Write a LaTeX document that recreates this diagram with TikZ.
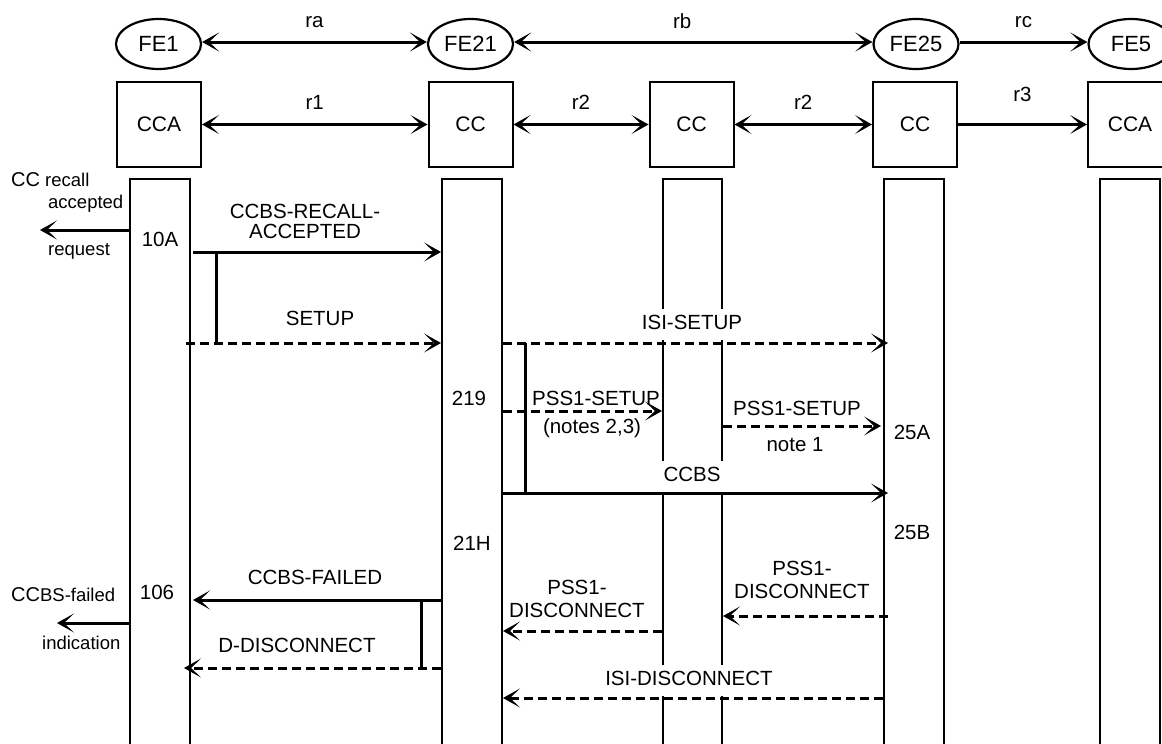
\documentclass[tikz,border=0pt]{standalone}
\usepackage{fontspec}
\setmainfont{Liberation Sans}
\usetikzlibrary{arrows.meta,shapes.geometric}
\begin{document}
\begin{tikzpicture}[x=1pt,y=-1pt,
  >={Stealth[length=17pt,width=19pt,inset=10pt,line width=1.6pt]},
  fe/.style={ellipse,draw,line width=2.2pt,minimum width=85pt,minimum height=50pt,inner sep=0pt,font=\fontsize{22}{24}\selectfont},
  fa/.style={rectangle,draw,line width=2pt,minimum width=84pt,minimum height=85pt,inner sep=0pt,font=\fontsize{21}{24}\selectfont},
  bar/.style={rectangle,draw,line width=2pt,minimum width=60pt,minimum height=620pt,inner sep=0pt,anchor=north},
  conn/.style={line width=3pt},
  msg/.style={line width=3pt,->},
  dmsg/.style={line width=3pt,->,dash pattern=on 9pt off 5pt},
  vl/.style={line width=3pt},
  rl/.style={font=\fontsize{20.5}{22}\selectfont,inner sep=0pt},
  lbl/.style={fill=white,font=\fontsize{20.5}{22}\selectfont,text height=15pt,text depth=4pt,inner xsep=3pt,inner ysep=6pt},
  nlbl/.style={font=\fontsize{20.5}{22}\selectfont,inner sep=1pt},
  mlbl/.style={font=\fontsize{20.5}{23}\selectfont,align=center,inner sep=1pt},
  st/.style={font=\fontsize{20.5}{22}\selectfont,inner sep=0pt},
  side/.style={font=\fontsize{18.5}{20}\selectfont,inner sep=0pt,anchor=west}
]
\useasboundingbox (0,0) rectangle (1162,744);
\clip (0,0) rectangle (1162,744);

% functional entities
\node[fe] (fe1) at (158.5,44) {FE1};
\node[fe] (fe21) at (470.5,44) {FE21};
\node[fe] (fe25) at (916,44) {FE25};
\node[fe] (fe5) at (1131,44) {FE5};

\node[fa] (cca1) at (159,124.5) {CCA};
\node[fa] (cc21) at (470.5,124.5) {CC};
\node[fa] (cc3) at (691.5,124.5) {CC};
\node[fa] (cc25) at (915,124.5) {CC};
\node[fa] (cca5) at (1130,124.5) {CCA};

\coordinate (e1) at (fe1.east |- 0,42);
\coordinate (e21w) at (fe21.west |- 0,42);
\coordinate (e21e) at (fe21.east |- 0,42);
\coordinate (e25w) at (fe25.west |- 0,42);
\coordinate (e25e) at (fe25.east |- 0,42);
\coordinate (e5) at (fe5.west |- 0,42);

\draw[conn,<->] (e1) -- node[rl,yshift=20pt] (ra) {ra} (e21w);
\draw[conn,<->] (e21e) -- node[rl,yshift=21pt,xshift=-11pt] (rb) {rb} (e25w);
\draw[conn,->] (e25e) -- node[rl,yshift=20pt] (rc) {rc} (e5);
\draw[conn,<->] (cca1) -- node[rl,yshift=22pt] (r1) {r1} (cc21);
\draw[conn,<->] (cc21) -- node[rl,yshift=22pt] (r2a) {r2} (cc3);
\draw[conn,<->] (cc3) -- node[rl,yshift=22pt] (r2b) {r2} (cc25);
\draw[conn,->] (cc25) -- node[rl,yshift=30pt] (r3) {r3} (cca5);

% lifeline bars
\node[bar] (b1) at (160,178) {};
\node[bar] (b2) at (472,178) {};
\node[bar,minimum width=59pt] (b3) at (692.5,178) {};
\node[bar] (b4) at (914,178) {};
\node[bar] (b5) at (1130,178) {};

% side texts
\node[side] (s1) at (11,180) {{\fontsize{20}{20}\selectfont CC} recall};
\node[side] (s2) at (48,204) {accepted};
\node[side] (s3) at (48,251) {request};
\node[side] (s4) at (11,595) {{\fontsize{20}{20}\selectfont CC}BS-failed};
\node[side] (s5) at (42,643) {indication};
\coordinate (o1) at (40,230);
\coordinate (o2) at (57,623);

% state labels
\node[st] (st10a) at (160,239) {10A};
\node[st] (st219) at (469,398) {219};
\node[st] (st25a) at (912,432) {25A};
\node[st] (st25b) at (912,532) {25B};
\node[st] (st21h) at (472,543) {21H};
\node[st] (st106) at (157,592) {106};

% message labels
\node[mlbl] (l1) at (305,221) {CCBS-RECALL-\\[-3pt]ACCEPTED};
\node[lbl] (l2) at (320,320) {SETUP};
\node[lbl] (l3) at (692,324) {ISI-SETUP};
\node[nlbl] (l4) at (596,398) {PSS1-SETUP};
\node[nlbl] (l4b) at (592,428) {(notes 2,3)};
\node[nlbl] (l5) at (797,408) {PSS1-SETUP};
\node[nlbl] (l5b) at (795,445) {note 1};
\node[lbl] (l6) at (692,476) {CCBS};
\node[lbl] (l7) at (315,579) {CCBS-FAILED};
\node[lbl] (l8) at (297,647) {D-DISCONNECT};
\node[mlbl] (l9) at (802,579.5) {PSS1-\\DISCONNECT};
\node[mlbl] (l10) at (577,598.5) {PSS1-\\DISCONNECT};
\node[lbl] (l11) at (689,680) {ISI-DISCONNECT};

% junction coordinates
\coordinate (j1a) at (216,252);
\coordinate (j1b) at (216,343);
\coordinate (j2a) at (525,343);
\coordinate (j2b) at (525,493);
\coordinate (j3a) at (421,600);
\coordinate (j3b) at (421,668);

% messages
\draw[msg] (b1.west |- 0,230) -- (o1);
\draw[msg] (b1.west |- 0,623) -- (o2);
\draw[msg] ([xshift=2pt]b1.east |- 0,252) -- (b2.west |- 0,252);
\draw[dmsg] ([xshift=-5pt]b1.east |- 0,343) -- (b2.west |- 0,343);
\draw[vl] (j1a) -- (j1b);
\draw[dmsg] (b2.east |- 0,343) -- ([xshift=5pt]b4.west |- 0,343);
\draw[vl] (j2a) -- (j2b);
\draw[dmsg] (b2.east |- 0,411) -- (b3.west |- 0,411);
\draw[dmsg] (b3.east |- 0,426) -- ([xshift=-2pt]b4.west |- 0,426);
\draw[msg] (b2.east |- 0,493) -- ([xshift=5pt]b4.west |- 0,493);
\draw[msg] (b2.west |- 0,600) -- ([xshift=2pt]b1.east |- 0,600);
\draw[dmsg] (b2.west |- 0,668) -- ([xshift=-7pt]b1.east |- 0,668);
\draw[vl] (j3a) -- (j3b);
\draw[dmsg] ([xshift=5pt]b4.west |- 0,616) -- (b3.east |- 0,616);
\draw[dmsg] (b3.west |- 0,631) -- (b2.east |- 0,631);
\draw[dmsg] (b4.west |- 0,698) -- (b2.east |- 0,698);
\end{tikzpicture}
\end{document}
